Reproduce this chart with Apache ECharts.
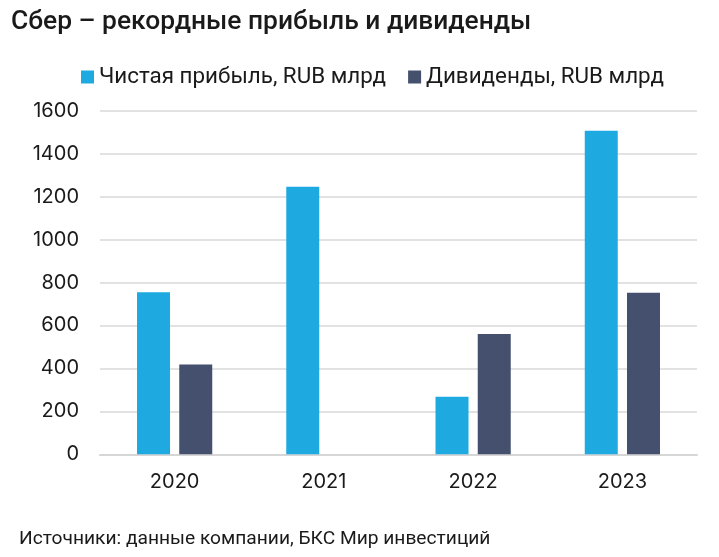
<!DOCTYPE html>
<html>
<head>
<meta charset="utf-8">
<script src="https://cdn.jsdelivr.net/npm/echarts@6/dist/echarts.min.js"></script>
<style>
html,body{margin:0;padding:0;background:#fff;}
#chart{width:719px;height:557px;}
</style>
</head>
<body>
<div id="chart"></div>
<script>
const categories = ['2020', '2021', '2022', '2023'];
const netProfit = [755, 1246, 268, 1507];
const dividends = [418, 0, 560, 752];
const yTicks = [0, 200, 400, 600, 800, 1000, 1200, 1400, 1600];
const seriesNames = ['Чистая прибыль, RUB млрд', 'Дивиденды, RUB млрд'];
const titleText = 'Сбер – рекордные прибыль и дивиденды';
const footerText = 'Источники: данные компании, БКС Мир инвестиций';

const chart = echarts.init(document.getElementById('chart'), null, {renderer: 'canvas'});
chart.setOption({
  backgroundColor: '#ffffff',
  animation: false,
  title: [
    {text: titleText, left: 6, top: 4,
     textStyle: {fontFamily: 'Roboto', fontSize: 26.4, fontWeight: 500, color: '#1a1a1a'}},
    {text: footerText, left: 14, top: 525,
     textStyle: {fontFamily: 'Roboto', fontSize: 19.2, fontWeight: 400, color: '#1a1a1a'}}
  ],
  legend: {
    left: 76, top: 61,
    icon: 'rect', itemWidth: 13, itemHeight: 13, itemGap: 22,
    textStyle: {fontFamily: 'Roboto', fontSize: 22.4, color: '#1a1a1a'},
    data: seriesNames
  },
  grid: {left: 100, right: 22, top: 110.7, bottom: 102.7, containLabel: false},
  xAxis: {
    type: 'category', data: categories,
    axisTick: {show: false},
    axisLine: {show: true, lineStyle: {color: '#d6d6d6', width: 2}},
    axisLabel: {fontFamily: 'Inter', fontSize: 20, color: '#1a1a1a', margin: 18}
  },
  yAxis: {
    type: 'value', min: yTicks[0], max: yTicks[yTicks.length - 1], interval: yTicks[1] - yTicks[0],
    axisLine: {show: false}, axisTick: {show: false},
    splitLine: {lineStyle: {color: '#d9d9d9', width: 1.5}},
    axisLabel: {fontFamily: 'Inter', fontSize: 20, color: '#1a1a1a', margin: 21,
                formatter: function (v) { return String(v); }}
  },
  series: [
    {name: seriesNames[0], type: 'bar', data: netProfit, barWidth: 33, barGap: '28%',
     itemStyle: {color: '#1eaae0'}},
    {name: seriesNames[1], type: 'bar', data: dividends, barWidth: 33, barGap: '28%',
     itemStyle: {color: '#45506e'}}
  ]
});
</script>
</body>
</html>
